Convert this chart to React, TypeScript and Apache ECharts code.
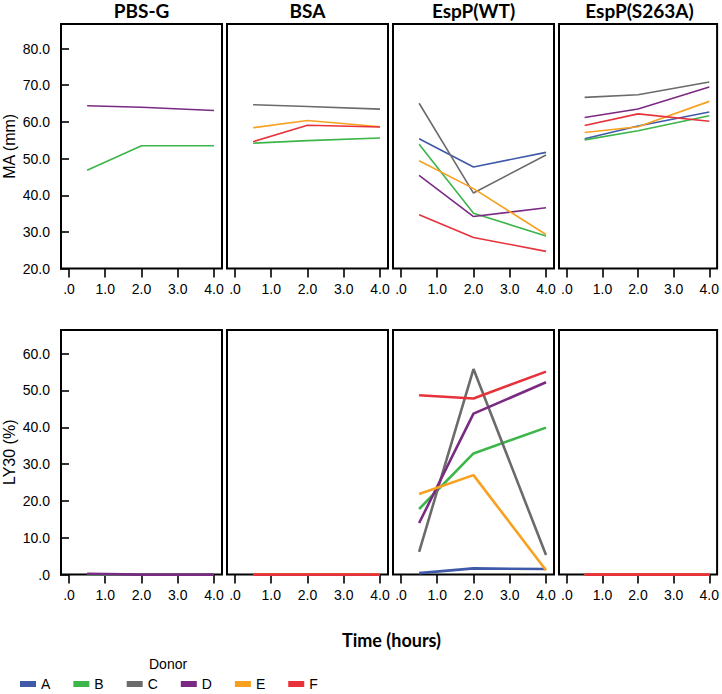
import React, { useEffect, useRef } from "react";
import * as echarts from "echarts";

const times = [0.5, 2, 4];
const panels = ["PBS-G", "BSA", "EspP(WT)", "EspP(S263A)"];
const donors = ["A", "B", "C", "D", "E", "F"];
const donorColors = ["#3F5AA8", "#3CB54A", "#6B6B6B", "#7B2A83", "#F8A020", "#E8323B"];

const xTicks = [0, 1, 2, 3, 4];
const maTicks = [20, 30, 40, 50, 60, 70, 80];
const lyTicks = [0, 10, 20, 30, 40, 50, 60];

// MA (mm): per panel, per donor A..F (null = no data)
const maPBSG = [null, [46.8, 53.5, 53.5], null, [64.4, 64.0, 63.1], null, null];
const maBSA = [null, [54.2, 54.9, 55.6], [64.7, 64.2, 63.5], null, [58.4, 60.4, 58.7], [54.6, 59.1, 58.6]];
const maWT = [
  [55.4, 47.7, 51.7],
  [53.9, 35.1, 28.9],
  [65.1, 40.6, 51.0],
  [45.4, 34.2, 36.6],
  [49.4, 41.8, 29.3],
  [34.7, 28.5, 24.7],
];
const maS263A = [
  [55.4, 58.9, 62.7],
  [55.1, 57.6, 61.7],
  [66.7, 67.4, 70.9],
  [61.2, 63.5, 69.5],
  [57.1, 58.7, 65.6],
  [59.0, 62.2, 60.2],
];

// LY30 (%)
const lyPBSG = [null, [0, 0, 0], null, [0.2, 0, 0], null, null];
const lyBSA = [null, [0, 0, 0], [0, 0, 0], null, [0, 0, 0], [0, 0, 0]];
const lyWT = [
  [0.4, 1.7, 1.5],
  [17.8, 32.9, 39.9],
  [6.2, 55.8, 5.3],
  [14.0, 43.7, 52.2],
  [21.9, 27.0, 1.2],
  [48.7, 47.8, 55.1],
];
const lyS263A = [
  [0, 0, 0],
  [0, 0, 0],
  [0, 0, 0],
  [0, 0, 0],
  [0, 0, 0],
  [0, 0, 0],
];

const maData = [maPBSG, maBSA, maWT, maS263A];
const lyData = [lyPBSG, lyBSA, lyWT, lyS263A];

const FONT = "Liberation Sans";
const TITLE_FONT = "Lato";
const lefts = [61, 227, 393, 559];
const panelW = 161;
const rowTops = [24, 330];
const rowH = 244.6;

function fmt(v: number) {
  return v === 0 ? ".0" : v.toFixed(1);
}

export default function App() {
  const ref = useRef<HTMLDivElement>(null);
  useEffect(() => {
    if (!ref.current) return;
    const chart = echarts.init(ref.current, null, { renderer: "svg" });
    const grids: any[] = [];
    const xAxes: any[] = [];
    const yAxes: any[] = [];
    const series: any[] = [];
    [0, 1].forEach((row) => {
      panels.forEach((_, p) => {
        const idx = row * 4 + p;
        grids.push({
          left: lefts[p],
          top: rowTops[row],
          width: panelW,
          height: rowH,
          show: true,
          borderColor: "#000",
          borderWidth: 2,
          backgroundColor: "transparent",
          containLabel: false,
        });
        xAxes.push({
          type: "value",
          gridIndex: idx,
          min: -0.22,
          max: 4.22,
          axisLine: { show: false },
          axisTick: {
            show: true,
            length: 9,
            customValues: xTicks,
            lineStyle: { color: "#000", width: 1.6 },
          },
          axisLabel: {
            customValues: xTicks,
            formatter: (v: number) => fmt(v),
            fontSize: 14,
            fontFamily: FONT,
            color: "#000",
            margin: 13,
          },
          splitLine: { show: false },
        });
        const ticks = row === 0 ? maTicks : lyTicks;
        yAxes.push({
          type: "value",
          gridIndex: idx,
          min: row === 0 ? 20 : 0,
          max: row === 0 ? 86.7 : 66.4,
          show: p === 0,
          axisLine: { show: false },
          axisTick: {
            show: true,
            length: 9,
            customValues: ticks,
            lineStyle: { color: "#000", width: 1.6 },
          },
          axisLabel: {
            customValues: ticks,
            formatter: (v: number) => fmt(v),
            fontSize: 14,
            fontFamily: FONT,
            color: "#000",
            margin: 11,
          },
          splitLine: { show: false },
        });
        const data = row === 0 ? maData[p] : lyData[p];
        data.forEach((vals, d) => {
          if (!vals) return;
          series.push({
            type: "line",
            name: donors[d],
            xAxisIndex: idx,
            yAxisIndex: idx,
            symbol: "none",
            data: times.map((t, i) => [t, vals[i]]),
            lineStyle: { color: donorColors[d], width: row === 0 ? 1.6 : 2.6 },
            itemStyle: { color: donorColors[d] },
            emphasis: { disabled: true },
            silent: true,
          });
        });
      });
    });

    const graphics: any[] = panels.map((name, p) => ({
      type: "text",
      x: lefts[p] + panelW / 2,
      y: 10,
      style: {
        text: name,
        fontFamily: TITLE_FONT,
        fontWeight: "bold",
        fontSize: 19,
        fill: "#000",
        align: "center",
        verticalAlign: "middle",
      },
    }));
    graphics.push(
      {
        type: "text",
        x: 9,
        y: rowTops[0] + rowH / 2,
        rotation: Math.PI / 2,
        style: {
          text: "MA (mm)",
          fontFamily: FONT,
          fontSize: 16,
          fill: "#000",
          align: "center",
          verticalAlign: "middle",
        },
      },
      {
        type: "text",
        x: 9,
        y: rowTops[1] + rowH / 2,
        rotation: Math.PI / 2,
        style: {
          text: "LY30 (%)",
          fontFamily: FONT,
          fontSize: 16,
          fill: "#000",
          align: "center",
          verticalAlign: "middle",
        },
      },
      {
        type: "text",
        x: 391.5,
        y: 640,
        style: {
          text: "Time (hours)",
          fontFamily: TITLE_FONT,
          fontWeight: "bold",
          fontSize: 18,
          fill: "#000",
          align: "center",
          verticalAlign: "middle",
        },
      },
      {
        type: "text",
        x: 149,
        y: 664,
        style: {
          text: "Donor",
          fontFamily: FONT,
          fontSize: 14,
          fill: "#000",
          align: "left",
          verticalAlign: "middle",
        },
      }
    );

    chart.setOption({
      animation: false,
      backgroundColor: "#fff",
      grid: grids,
      xAxis: xAxes,
      yAxis: yAxes,
      series,
      legend: {
        data: donors,
        left: 20,
        top: 677,
        icon: "rect",
        itemWidth: 16,
        itemHeight: 6,
        itemGap: 23,
        padding: 0,
        selectedMode: false,
        textStyle: { fontSize: 14, fontFamily: FONT, color: "#000" },
      },
      graphic: graphics,
    });
    return () => chart.dispose();
  }, []);
  return (
    <div
      ref={ref}
      style={{ position: "absolute", left: 0, top: 0, width: 722, height: 694 }}
    />
  );
}
